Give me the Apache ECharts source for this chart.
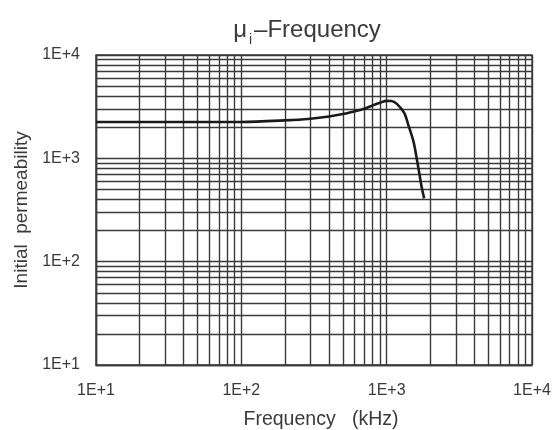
<!DOCTYPE html>
<html><head><meta charset="utf-8">
<script src="https://cdn.jsdelivr.net/npm/echarts@6/dist/echarts.min.js"></script>
<style>html,body{margin:0;padding:0;background:#fff}#c{width:558px;height:430px}</style>
</head><body><div id="c"></div>
<script>
// Data
const freqKHz = [10, 100, 200, 300, 400, 500, 600, 700, 800, 900, 1000, 1080, 1170, 1320, 1410, 1530, 1630, 1740, 1810];
const permeability = [2250, 2250, 2330, 2420, 2540, 2680, 2850, 3020, 3250, 3450, 3600, 3590, 3380, 2750, 2100, 1450, 900, 530, 410];
// Grid / tick values
const xMinorGrid = [20,30,40,50,60,70,80,90,200,300,400,500,600,700,800,900,2000,3000,4000,5000,6000,7000,8000,9000];
const yMinorGrid = [20,30,40,50,60,70,80,90,200,300,400,500,600,700,800,900,2000,3000,4000,5000,6000,7000,8000,9000];

const FONT = '"Liberation Sans", Arial, sans-serif';
const GRID_COLOR = '#3a3a3a';
const TEXT_COLOR = '#3a3a3a';
const fmt = v => '1E+' + Math.round(Math.log10(v));

const chart = echarts.init(document.getElementById('c'), null, {renderer: 'canvas'});
const gridLineStyle = {color: GRID_COLOR, width: 1.4, type: 'solid'};
chart.setOption({
  animation: false,
  backgroundColor: '#fff',
  title: {
    text: 'μ{sub|i}–Frequency',
    left: 302, top: 8, textAlign: 'center',
    textStyle: {
      fontFamily: FONT, fontSize: 24, fontWeight: 'normal', color: TEXT_COLOR,
      rich: {sub: {fontFamily: FONT, fontSize: 14, color: TEXT_COLOR, verticalAlign: 'bottom', padding: [20, 2, 0, 2]}}
    }
  },
  grid: {left: 96, right: 26, top: 55, bottom: 65, show: true, borderColor: GRID_COLOR, borderWidth: 1.4,
         containLabel: false, outerBoundsMode: 'none'},
  xAxis: {
    type: 'log', logBase: 10, min: 10, max: 10000,
    name: 'Frequency   (kHz)', nameLocation: 'middle', nameGap: 45,
    nameTextStyle: {fontFamily: FONT, fontSize: 19.5, color: TEXT_COLOR, padding: [0, 0, 0, 14]},
    axisLine: {show: true, lineStyle: {color: GRID_COLOR, width: 1.4}},
    axisTick: {show: false},
    axisLabel: {formatter: fmt, fontFamily: FONT, fontSize: 16, color: TEXT_COLOR, margin: 18},
    splitLine: {show: true, lineStyle: gridLineStyle},
    minorTick: {show: false}, minorSplitLine: {show: false}
  },
  yAxis: {
    type: 'log', logBase: 10, min: 10, max: 10000,
    name: 'Initial  permeability', nameLocation: 'middle', nameGap: 65,
    nameTextStyle: {fontFamily: FONT, fontSize: 19, color: TEXT_COLOR},
    axisLine: {show: true, lineStyle: {color: GRID_COLOR, width: 1.4}},
    axisTick: {show: false},
    axisLabel: {formatter: fmt, fontFamily: FONT, fontSize: 16, color: TEXT_COLOR, margin: 16},
    splitLine: {show: true, lineStyle: gridLineStyle},
    minorTick: {show: false}, minorSplitLine: {show: false}
  },
  series: [
    {
      type: 'line', data: [], silent: true, z: 1,
      markLine: {
        silent: true, symbol: ['none', 'none'], animation: false,
        label: {show: false},
        lineStyle: gridLineStyle,
        emphasis: {disabled: true},
        data: xMinorGrid.map(v => ({xAxis: v})).concat(yMinorGrid.map(v => ({yAxis: v})))
      }
    },
    {
      type: 'line', z: 5,
      data: freqKHz.map((f, i) => [f, permeability[i]]),
      smooth: 0.3, showSymbol: false, symbol: 'none',
      lineStyle: {color: '#1a1a1a', width: 2.6}
    }
  ]
});
</script></body></html>
